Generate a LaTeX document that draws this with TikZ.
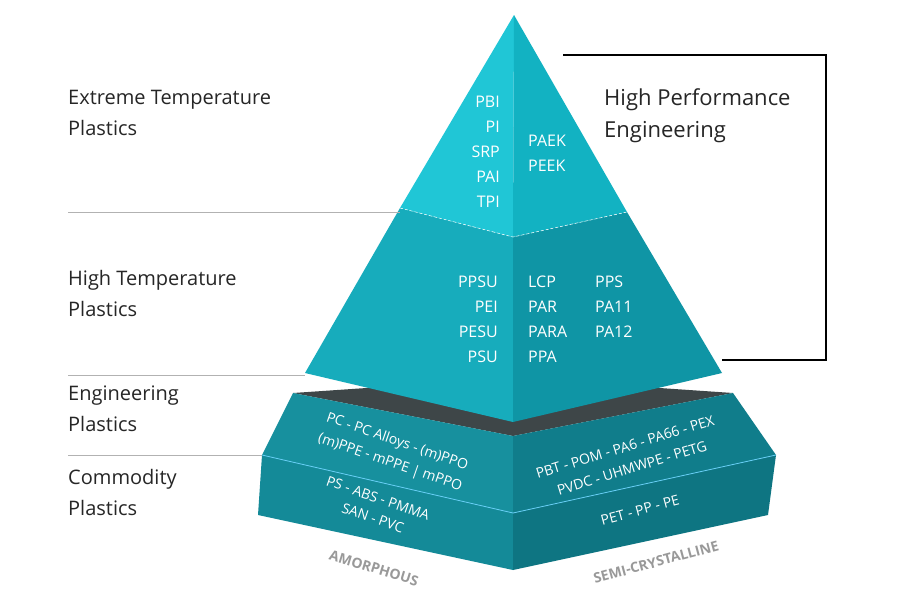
\documentclass[tikz,border=0pt]{standalone}
\usepackage{fontspec}
\setmainfont{Open Sans}
\definecolor{tl}{HTML}{20C6D6}
\definecolor{tr}{HTML}{12B2C2}
\definecolor{ml}{HTML}{17ACBC}
\definecolor{mr}{HTML}{0F95A5}
\definecolor{bl}{HTML}{17909E}
\definecolor{bl2}{HTML}{148A98}
\definecolor{br}{HTML}{107D8B}
\definecolor{br2}{HTML}{0E7582}
\definecolor{bf}{HTML}{3E4648}
\begin{document}
\begin{tikzpicture}[x=1pt,y=-1pt,
 lab/.style={anchor=north west,align=left,font=\fontsize{20}{31}\selectfont,text=black!85,inner sep=0},
 pt/.style={font=\fontsize{16}{25}\selectfont,text=white,inner sep=0,align=left},
 ptr/.style={font=\fontsize{16}{25}\selectfont,text=white,inner sep=0,align=right},
 bt/.style={font=\fontsize{14}{21}\selectfont,text=white,inner sep=0},
 gl/.style={font=\bfseries\fontsize{14}{16}\selectfont,text=black!40,inner sep=0},
 sep/.style={draw=gray!60,line width=1pt}]
\useasboundingbox (0,0) rectangle (900,600);
\fill[white] (0,0) rectangle (900,600);
% base
\fill[bf] (293,393) -- (513,378) -- (733,393) -- (513,436) -- cycle;
\fill[bl] (293,393) -- (513,436) -- (513,513) -- (262,455) -- cycle;
\fill[bl2] (262,455) -- (513,513) -- (513,570) -- (258,515) -- cycle;
\fill[br] (733,393) -- (513,436) -- (513,513) -- (776,455) -- cycle;
\fill[br2] (776,455) -- (513,513) -- (513,570) -- (768,515) -- cycle;
\draw[cyan!60!white,line width=0.8pt] (262,455) -- (513,513) -- (776,455);
% middle
\fill[ml] (400,208) -- (513,237) -- (513,422) -- (305,373) -- cycle;
\fill[mr] (627,212) -- (513,237) -- (513,422) -- (722,373) -- cycle;
% top
\fill[tl] (514,15) -- (400,208) -- (513,237) -- cycle;
\fill[tr] (514,15) -- (513,237) -- (627,212) -- cycle;
\draw[white,densely dashed,line width=0.5pt] (400,208) -- (513,237) -- (627,212);
% separator lines
\draw[sep] (68,212) -- (400,212);
\draw[sep] (68,375) -- (305,375);
\draw[sep] (68,455) -- (262,455);
% bracket
\draw[black,line width=2pt] (563,55) -- (826,55) -- (826,360) -- (722,360);
% labels
\node[lab] (l1) at (68,90) {Extreme Temperature\\Plastics};
\node[lab] (l2) at (68,270) {High Temperature\\Plastics};
\node[lab] (l3) at (68,386) {Engineering\\Plastics};
\node[lab] (l4) at (68,469) {Commodity\\Plastics};
\node[lab,font=\fontsize{22}{32}\selectfont] (hp) at (604,88) {High Performance\\Engineering};
% top text
\node[ptr,anchor=north east] (t1) at (500,96) {PBI\\PI\\SRP\\PAI\\TPI};
\node[pt,anchor=north west] (t2) at (528,135) {PAEK\\PEEK};
\node[ptr,anchor=north east] (m1) at (498,276) {PPSU\\PEI\\PESU\\PSU};
\node[pt,anchor=north west] (m2) at (528,276) {LCP\\PAR\\PARA\\PPA};
\node[pt,anchor=north west] (m3) at (595,276) {PPS\\PA11\\PA12};
% base text
\node[bt,rotate=-19] (b1a) at (397,442) {PC - PC Alloys - (m)PPO};
\node[bt,rotate=-19] (b1b) at (390,463) {(m)PPE - mPPE | mPPO};
\node[bt,rotate=-19] (b2a) at (378,498) {PS - ABS - PMMA};
\node[bt,rotate=-19] (b2b) at (373,518) {SAN - PVC};
\node[bt,rotate=17] (b3a) at (625,447) {PBT - POM - PA6 - PA66 - PEX};
\node[bt,rotate=17] (b3b) at (632,468) {PVDC - UHMWPE - PETG};
\node[bt,rotate=15] (b4) at (640,510) {PET - PP - PE};
\node[gl,rotate=-17] (am) at (374,568) {AMORPHOUS};
\node[gl,rotate=15] (sc) at (656,562) {SEMI-CRYSTALLINE};
\end{tikzpicture}
\end{document}
